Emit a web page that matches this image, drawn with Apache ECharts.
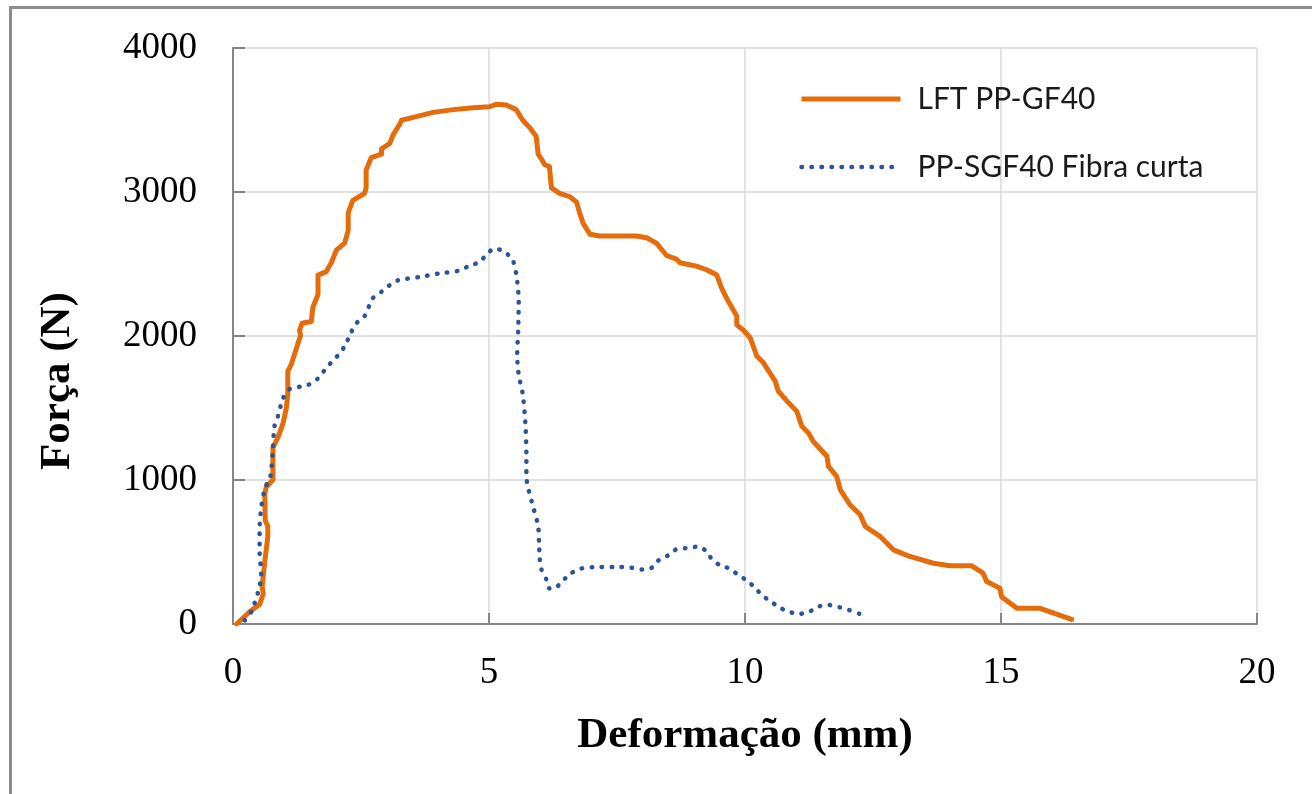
<!DOCTYPE html>
<html>
<head>
<meta charset="utf-8">
<script src="https://cdn.jsdelivr.net/npm/echarts@6/dist/echarts.min.js"></script>
<style>
html,body{margin:0;padding:0;background:#fff;}
#c{width:1312px;height:794px;}
</style>
</head>
<body>
<div id="c"></div>
<script>
const xTicks = [0, 5, 10, 15, 20];
const yTicks = [0, 1000, 2000, 3000, 4000];
const seriesNames = ['LFT PP-GF40', 'PP-SGF40 Fibra curta'];

const lftX = [0.07,0.33,0.52,0.59,0.57,0.62,0.68,0.68,0.63,0.62,0.65,0.78,0.78,0.88,0.98,1.04,1.07,1.07,1.14,1.24,1.32,1.30,1.35,1.53,1.56,1.66,1.66,1.82,1.92,2.02,2.18,2.25,2.25,2.34,2.57,2.60,2.60,2.70,2.90,2.90,3.06,3.13,3.26,3.29,3.58,3.91,4.30,4.69,5.01,5.14,5.34,5.53,5.66,5.79,5.92,5.96,6.05,6.09,6.18,6.22,6.38,6.58,6.71,6.77,6.84,6.97,7.16,7.88,8.08,8.27,8.47,8.66,8.73,9.05,9.25,9.45,9.54,9.64,9.84,9.84,9.97,10.1,10.23,10.36,10.59,10.65,10.85,11.01,11.11,11.24,11.33,11.60,11.63,11.79,11.86,12.05,12.25,12.35,12.64,12.90,13.22,13.68,14.0,14.43,14.65,14.72,14.98,15.01,15.31,15.76,15.89,16.38];
const lftY = [0,87,136,210,260,433,606,680,717,902,952,1001,1224,1298,1397,1496,1595,1755,1805,1916,2003,2040,2089,2101,2200,2287,2423,2447,2509,2596,2645,2732,2855,2942,2991,3028,3152,3239,3263,3300,3337,3399,3473,3498,3523,3553,3572,3585,3592,3609,3604,3572,3498,3449,3387,3263,3214,3189,3177,3028,2991,2967,2930,2855,2781,2707,2695,2695,2682,2645,2559,2534,2509,2485,2460,2423,2336,2262,2138,2077,2040,1988,1861,1814,1687,1617,1536,1478,1374,1327,1269,1165,1095,1026,933,828,759,677,608,515,469,422,404,404,353,295,248,190,109,109,93,32];

const sgfX = [0.23,0.36,0.49,0.55,0.52,0.52,0.55,0.62,0.73,0.78,0.81,0.88,0.98,1.11,1.33,1.53,1.66,1.79,1.92,2.05,2.18,2.31,2.41,2.57,2.73,2.90,3.06,3.22,3.65,4.04,4.43,4.62,4.82,4.95,5.11,5.31,5.47,5.55,5.58,5.57,5.55,5.58,5.66,5.71,5.73,5.73,5.76,5.86,5.96,5.98,5.99,6.02,6.12,6.18,6.28,6.41,6.58,6.77,7.16,7.56,7.78,7.99,8.19,8.32,8.50,8.66,8.86,9.05,9.25,9.35,9.51,9.71,9.87,10.03,10.20,10.33,10.49,10.66,10.85,11.05,11.26,11.43,11.63,11.84,12.03,12.23];
const sgfY = [25,87,222,334,507,655,803,939,1026,1224,1372,1446,1570,1632,1649,1669,1706,1763,1817,1866,1928,2027,2089,2138,2262,2307,2353,2386,2410,2435,2455,2489,2514,2566,2608,2583,2522,2386,2237,2040,1866,1731,1595,1397,1174,1026,952,816,680,532,457,383,309,247,247,289,346,383,396,396,391,378,393,445,477,519,527,536,507,450,408,383,339,304,250,200,160,118,86,70,86,121,132,116,97,72];

const zip = (xs, ys) => xs.map((x, i) => [x, ys[i]]);

const chart = echarts.init(document.getElementById('c'), null, {renderer: 'canvas'});
const serif = "'Liberation Serif', 'Times New Roman', serif";
const axisGray = '#868686';
const gridGray = '#D9D9D9';
const orange = '#E46C0A';
const blue = '#2B5597';
const lftLine = {color: orange, width: 5, cap: 'round', join: 'round'};
const sgfLine = {color: blue, width: 4.5, type: [0.5, 9.5], cap: 'round'};

chart.setOption({
  animation: false,
  backgroundColor: '#ffffff',
  grid: {left: 233, right: 55, top: 48, bottom: 170, containLabel: false},
  legend: {
    orient: 'vertical',
    left: 794,
    top: 79,
    itemWidth: 99,
    itemHeight: 0.1,
    itemGap: 38,
    itemStyle: {opacity: 0},
    data: [
      {name: seriesNames[0], lineStyle: {color: orange, width: 5, type: 'solid', cap: 'butt'}},
      {name: seriesNames[1], lineStyle: {color: blue, width: 4.5, type: [0.5, 9.5], cap: 'round'}}
    ],
    textStyle: {fontFamily: "Lato, 'Open Sans', sans-serif", fontSize: 30, lineHeight: 30, color: '#1a1a1a', padding: [0, 0, 0, 12]}
  },
  xAxis: {
    type: 'value',
    min: xTicks[0],
    max: xTicks[xTicks.length - 1],
    interval: 5,
    name: 'Deformação (mm)',
    nameLocation: 'middle',
    nameGap: 90,
    nameTextStyle: {fontFamily: serif, fontWeight: 'bold', fontSize: 43, color: '#000'},
    axisLine: {show: true, onZero: false, lineStyle: {color: axisGray, width: 2}},
    axisTick: {show: true, inside: true, length: 11, lineStyle: {color: axisGray, width: 2}},
    axisLabel: {fontFamily: serif, fontSize: 37, color: '#000', margin: 31, formatter: v => String(v)},
    splitLine: {show: true, lineStyle: {color: gridGray, width: 1.5}}
  },
  yAxis: {
    type: 'value',
    min: yTicks[0],
    max: yTicks[yTicks.length - 1],
    interval: 1000,
    axisLine: {show: true, lineStyle: {color: axisGray, width: 2}},
    axisTick: {show: true, inside: true, length: 12, lineStyle: {color: axisGray, width: 2}},
    axisLabel: {fontFamily: serif, fontSize: 37, color: '#000', margin: 36, formatter: v => String(v)},
    splitLine: {show: true, lineStyle: {color: gridGray, width: 1.5}}
  },
  graphic: [
    {type: 'line', shape: {x1: 9, y1: 7.5, x2: 1312, y2: 7.5}, style: {stroke: '#8c8c8c', lineWidth: 3}, silent: true},
    {type: 'line', shape: {x1: 10.5, y1: 6, x2: 10.5, y2: 794}, style: {stroke: '#8c8c8c', lineWidth: 3}, silent: true},
    {type: 'text', x: 58, y: 381, rotation: Math.PI / 2,
     style: {text: 'Força (N)', font: "bold 43px 'Liberation Serif', serif", fill: '#000', align: 'center', verticalAlign: 'middle'}, silent: true}
  ],
  series: [
    {
      name: seriesNames[0],
      type: 'line',
      data: zip(lftX, lftY),
      showSymbol: false,
      symbol: 'none',
      smooth: false,
      lineStyle: lftLine,
      itemStyle: {color: orange},
      z: 3
    },
    {
      name: seriesNames[1],
      type: 'line',
      data: zip(sgfX, sgfY),
      showSymbol: false,
      symbol: 'none',
      smooth: 0.25,
      lineStyle: sgfLine,
      itemStyle: {color: blue},
      z: 4
    }
  ]
});
</script>
</body>
</html>
